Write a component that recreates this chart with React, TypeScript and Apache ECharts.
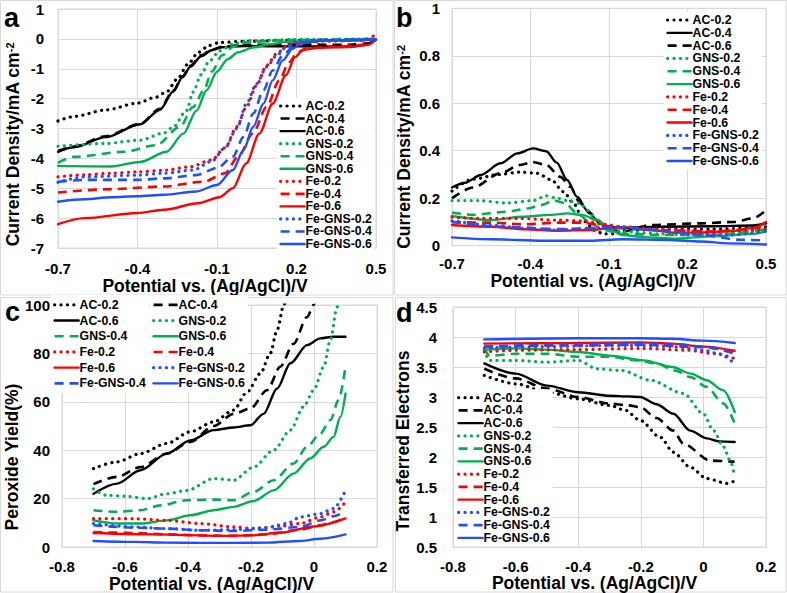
import { useEffect, useRef } from 'react';
import * as echarts from 'echarts';

const FONT = '"Liberation Sans", Arial, Helvetica, sans-serif';

// ---------- names, colours, line kinds ----------
const NAMES = ['AC-0.2', 'AC-0.4', 'AC-0.6', 'GNS-0.2', 'GNS-0.4', 'GNS-0.6', 'Fe-0.2', 'Fe-0.4', 'Fe-0.6', 'Fe-GNS-0.2', 'Fe-GNS-0.4', 'Fe-GNS-0.6'];
const COLORS = ['#000000', '#000000', '#000000', '#00b050', '#00b050', '#00b050', '#ff0000', '#ff0000', '#ff0000', '#1f4fff', '#1f4fff', '#1f4fff'];
const KINDS_DEFAULT = ['dot', 'dash', 'solid', 'dot', 'dash', 'solid', 'dot', 'dash', 'solid', 'dot', 'dash', 'solid'];
const KINDS_B = ['dot', 'solid', 'dash', 'dot', 'dash', 'solid', 'dot', 'dash', 'solid', 'dot', 'dash', 'solid'];

// ---------- panel a : current density (disk) ----------
const aAC02 = [[-0.7, -2.75], [-0.64, -2.6], [-0.52, -2.38], [-0.4, -2.15], [-0.33, -1.95], [-0.29, -1.77], [-0.25, -1.35], [-0.21, -0.85], [-0.17, -0.45], [-0.13, -0.22], [-0.09, -0.12], [0, -0.08], [0.2, -0.05], [0.4, -0.04], [0.5, -0.02]];
const aAC04 = [[-0.7, -3.75], [-0.64, -3.6], [-0.52, -3.26], [-0.39, -2.84], [-0.315, -2.34], [-0.265, -1.73], [-0.23, -1.25], [-0.2, -0.9], [-0.16, -0.55], [-0.12, -0.36], [-0.08, -0.26], [0, -0.2], [0.2, -0.19], [0.4, -0.2], [0.47, -0.15], [0.5, -0.03]];
const aAC06 = [[-0.7, -3.78], [-0.64, -3.63], [-0.52, -3.29], [-0.39, -2.86], [-0.315, -2.37], [-0.265, -1.76], [-0.23, -1.28], [-0.2, -0.93], [-0.16, -0.58], [-0.12, -0.38], [-0.08, -0.28], [0, -0.24], [0.2, -0.25], [0.4, -0.26], [0.46, -0.2], [0.5, -0.03]];
const aGNS02 = [[-0.7, -3.6], [-0.52, -3.5], [-0.39, -3.39], [-0.3, -3.15], [-0.265, -2.95], [-0.215, -2.4], [-0.19, -1.78], [-0.16, -1.2], [-0.13, -0.75], [-0.09, -0.4], [-0.04, -0.18], [0.02, -0.06], [0.2, -0.02], [0.5, 0]];
const aGNS04 = [[-0.7, -4.15], [-0.64, -3.95], [-0.45, -3.78], [-0.33, -3.56], [-0.24, -2.95], [-0.19, -2.28], [-0.15, -1.73], [-0.12, -1.1], [-0.08, -0.55], [-0.04, -0.27], [0.02, -0.1], [0.2, -0.03], [0.5, 0]];
const aGNS06 = [[-0.7, -4.25], [-0.5, -4.27], [-0.39, -4.12], [-0.29, -3.78], [-0.227, -3.17], [-0.177, -2.4], [-0.14, -1.73], [-0.1, -1.1], [-0.06, -0.68], [-0.02, -0.45], [0.04, -0.28], [0.1, -0.18], [0.16, -0.1], [0.3, -0.05], [0.5, -0.02]];
const aFe02 = [[-0.7, -4.62], [-0.6, -4.55], [-0.5, -4.5], [-0.4, -4.45], [-0.3, -4.4], [-0.2, -4.28], [-0.12, -4.05], [-0.07, -3.65], [-0.025, -2.94], [0.011, -2.28], [0.049, -1.56], [0.087, -0.89], [0.125, -0.5], [0.16, -0.26], [0.2, -0.14], [0.3, -0.08], [0.45, -0.05], [0.5, 0.15]];
const aFe04 = [[-0.7, -5.14], [-0.5, -5.03], [-0.3, -4.94], [-0.15, -4.78], [-0.07, -4.5], [-0.02, -3.94], [0.035, -3.17], [0.087, -2.28], [0.135, -1.39], [0.172, -0.78], [0.205, -0.44], [0.24, -0.31], [0.35, -0.26], [0.46, -0.2], [0.5, 0]];
const aFe06 = [[-0.7, -6.2], [-0.6, -6.0], [-0.4, -5.83], [-0.3, -5.72], [-0.17, -5.5], [-0.09, -5.3], [-0.04, -5.0], [0.01, -4.17], [0.06, -3.17], [0.11, -2.17], [0.16, -1.22], [0.195, -0.61], [0.225, -0.37], [0.28, -0.3], [0.4, -0.27], [0.47, -0.2], [0.5, -0.02]];
const aFeGNS02 = [[-0.7, -4.8], [-0.6, -4.62], [-0.4, -4.56], [-0.3, -4.5], [-0.19, -4.39], [-0.12, -4.1], [-0.07, -3.65], [-0.025, -3.0], [0.011, -2.17], [0.049, -1.5], [0.087, -0.94], [0.125, -0.56], [0.16, -0.28], [0.195, -0.11], [0.3, -0.04], [0.5, -0.02]];
const aFeGNS04 = [[-0.7, -4.78], [-0.6, -4.72], [-0.4, -4.72], [-0.3, -4.67], [-0.18, -4.56], [-0.1, -4.33], [-0.04, -3.94], [0.0, -3.28], [0.037, -2.5], [0.075, -1.72], [0.11, -1.06], [0.148, -0.56], [0.185, -0.28], [0.22, -0.14], [0.3, -0.05], [0.5, -0.02]];
const aFeGNS06 = [[-0.7, -5.45], [-0.6, -5.37], [-0.5, -5.3], [-0.4, -5.27], [-0.3, -5.22], [-0.18, -5.11], [-0.1, -4.89], [-0.04, -4.39], [0.0, -3.72], [0.037, -2.94], [0.075, -2.17], [0.11, -1.39], [0.148, -0.72], [0.185, -0.33], [0.22, -0.14], [0.3, -0.05], [0.5, -0.02]];

// ---------- panel b : current density (ring) ----------
const bAC02 = [[-0.7, 0.23], [-0.62, 0.28], [-0.52, 0.3], [-0.44, 0.31], [-0.375, 0.305], [-0.32, 0.277], [-0.274, 0.227], [-0.235, 0.179], [-0.21, 0.136], [-0.184, 0.094], [-0.16, 0.066], [-0.12, 0.05], [-0.083, 0.05], [-0.05, 0.065], [0.1, 0.07], [0.3, 0.07], [0.5, 0.08]];
const bAC04 = [[-0.7, 0.245], [-0.65, 0.265], [-0.59, 0.298], [-0.515, 0.347], [-0.45, 0.389], [-0.39, 0.41], [-0.34, 0.398], [-0.3, 0.35], [-0.26, 0.277], [-0.222, 0.206], [-0.184, 0.15], [-0.146, 0.108], [-0.108, 0.082], [-0.06, 0.075], [0.1, 0.08], [0.3, 0.082], [0.45, 0.085], [0.5, 0.094]];
const bAC06 = [[-0.7, 0.2], [-0.62, 0.245], [-0.515, 0.305], [-0.44, 0.34], [-0.39, 0.352], [-0.34, 0.34], [-0.286, 0.29], [-0.248, 0.248], [-0.21, 0.179], [-0.172, 0.136], [-0.133, 0.094], [-0.095, 0.066], [-0.05, 0.06], [0.06, 0.087], [0.25, 0.094], [0.375, 0.1], [0.45, 0.115], [0.5, 0.15]];
const bGNS02 = [[-0.7, 0.19], [-0.6, 0.19], [-0.49, 0.18], [-0.39, 0.19], [-0.34, 0.21], [-0.3, 0.2], [-0.26, 0.19], [-0.21, 0.179], [-0.184, 0.15], [-0.146, 0.108], [-0.1, 0.07], [-0.05, 0.06], [0.1, 0.05], [0.2, 0.045], [0.35, 0.05], [0.5, 0.07]];
const bGNS04 = [[-0.7, 0.14], [-0.62, 0.13], [-0.49, 0.143], [-0.41, 0.157], [-0.36, 0.171], [-0.31, 0.19], [-0.27, 0.18], [-0.22, 0.136], [-0.17, 0.094], [-0.12, 0.066], [-0.05, 0.05], [0.1, 0.045], [0.3, 0.045], [0.5, 0.07]];
const bGNS06 = [[-0.7, 0.125], [-0.55, 0.108], [-0.43, 0.122], [-0.32, 0.13], [-0.26, 0.136], [-0.2, 0.129], [-0.146, 0.108], [-0.1, 0.07], [-0.05, 0.045], [0.05, 0.035], [0.15, 0.03], [0.3, 0.04], [0.45, 0.05], [0.5, 0.06]];
const bFe02 = [[-0.7, 0.12], [-0.6, 0.115], [-0.45, 0.115], [-0.3, 0.108], [-0.2, 0.105], [-0.12, 0.09], [-0.05, 0.08], [0.1, 0.07], [0.3, 0.06], [0.5, 0.07]];
const bFe04 = [[-0.7, 0.1], [-0.55, 0.097], [-0.42, 0.09], [-0.3, 0.097], [-0.2, 0.097], [-0.15, 0.09], [-0.1, 0.08], [0.1, 0.065], [0.3, 0.06], [0.5, 0.08]];
const bFe06 = [[-0.7, 0.087], [-0.55, 0.08], [-0.42, 0.069], [-0.3, 0.063], [-0.17, 0.066], [-0.1, 0.073], [-0.04, 0.077], [0.06, 0.066], [0.15, 0.055], [0.25, 0.055], [0.375, 0.062], [0.45, 0.075], [0.5, 0.1]];
const bFeGNS02 = [[-0.7, 0.105], [-0.55, 0.087], [-0.42, 0.073], [-0.3, 0.066], [-0.17, 0.073], [-0.05, 0.08], [0.08, 0.066], [0.2, 0.05], [0.35, 0.045], [0.5, 0.06]];
const bFeGNS04 = [[-0.7, 0.1], [-0.5, 0.08], [-0.3, 0.07], [-0.1, 0.075], [0.1, 0.065], [0.25, 0.045], [0.4, 0.025], [0.5, 0.022]];
const bFeGNS06 = [[-0.7, 0.035], [-0.55, 0.027], [-0.35, 0.021], [-0.17, 0.021], [-0.05, 0.027], [0.13, 0.024], [0.25, 0.018], [0.36, 0.01], [0.5, 0.005]];

// ---------- panel c : peroxide yield ----------
const cAC02 = [[-0.7, 32.4], [-0.625, 35.2], [-0.551, 38.6], [-0.467, 42.8], [-0.393, 47.6], [-0.318, 51.7], [-0.255, 56.6], [-0.213, 64], [-0.17, 71.7], [-0.139, 80], [-0.117, 89.7], [-0.096, 100], [-0.08, 108]];
const cAC04 = [[-0.7, 26], [-0.625, 29], [-0.551, 33], [-0.467, 38.6], [-0.393, 43.4], [-0.318, 50], [-0.255, 55], [-0.202, 57.2], [-0.149, 64.8], [-0.107, 74.5], [-0.065, 84], [-0.022, 95], [-0.001, 100], [0.01, 104]];
const cAC06 = [[-0.7, 22], [-0.625, 26.2], [-0.551, 31.7], [-0.467, 38.6], [-0.393, 44], [-0.318, 48.3], [-0.255, 49.4], [-0.202, 50.3], [-0.16, 55], [-0.117, 65.5], [-0.075, 75.9], [-0.022, 83.4], [0.02, 86.2], [0.062, 86.9], [0.1, 86.9]];
const cGNS02 = [[-0.7, 24], [-0.66, 21.4], [-0.6, 21], [-0.53, 20], [-0.467, 22], [-0.403, 23.4], [-0.318, 28.3], [-0.255, 27.6], [-0.192, 33], [-0.128, 40], [-0.075, 48.3], [-0.033, 58], [-0.001, 64.8], [0.031, 74.5], [0.052, 85.5], [0.073, 99], [0.08, 104]];
const cGNS04 = [[-0.7, 15.2], [-0.625, 14.5], [-0.551, 15.2], [-0.488, 17.2], [-0.403, 19.3], [-0.318, 19.6], [-0.255, 19.3], [-0.192, 22.8], [-0.128, 27.6], [-0.065, 34.5], [-0.022, 41.4], [0.02, 46.9], [0.052, 52.4], [0.078, 60.7], [0.1, 74.5]];
const cGNS06 = [[-0.7, 11], [-0.625, 9.7], [-0.551, 9.7], [-0.467, 11], [-0.393, 13.1], [-0.318, 15.2], [-0.255, 16.6], [-0.192, 19], [-0.128, 23.4], [-0.065, 30.3], [-0.012, 36.6], [0.031, 41.4], [0.062, 45.5], [0.084, 53.8], [0.1, 63.4]];
const cFe02 = [[-0.7, 11.7], [-0.572, 11.7], [-0.467, 11], [-0.361, 9.7], [-0.255, 8.3], [-0.192, 7.6], [-0.107, 8.6], [-0.043, 9.7], [0.02, 12.4], [0.062, 14.5], [0.1, 18.6]];
const cFe04 = [[-0.7, 6.2], [-0.572, 5.8], [-0.467, 5.2], [-0.361, 4.8], [-0.255, 4.6], [-0.149, 5.2], [-0.043, 7.2], [0.02, 9], [0.062, 10.3], [0.1, 12.4]];
const cFe06 = [[-0.7, 5.8], [-0.5, 5.2], [-0.3, 4.6], [-0.2, 4.8], [-0.1, 6], [0, 8.5], [0.1, 11.8]];
const cFeGNS02 = [[-0.7, 9.7], [-0.572, 8.3], [-0.467, 7.6], [-0.361, 6.9], [-0.255, 7.2], [-0.149, 8], [-0.086, 9.7], [-0.043, 12.4], [0.02, 13.8], [0.062, 15.9], [0.1, 23.4]];
const cFeGNS04 = [[-0.7, 9], [-0.572, 8], [-0.467, 7.6], [-0.361, 6.9], [-0.255, 6.6], [-0.149, 7.2], [-0.043, 8.3], [0.02, 11], [0.062, 12.7], [0.1, 14.9]];
const cFeGNS06 = [[-0.7, 2.5], [-0.572, 2.1], [-0.467, 1.8], [-0.361, 1.7], [-0.255, 1.7], [-0.149, 1.8], [-0.043, 2.5], [0.02, 3.4], [0.1, 5.2]];

// ---------- panel d : transferred electrons ----------
const dAC02 = [[-0.7, 3.36], [-0.6, 3.22], [-0.5, 3.08], [-0.4, 2.97], [-0.3, 2.86], [-0.25, 2.78], [-0.202, 2.61], [-0.138, 2.33], [-0.096, 2.08], [-0.042, 1.83], [0.011, 1.64], [0.075, 1.56], [0.1, 1.6]];
const dAC04 = [[-0.7, 3.47], [-0.6, 3.31], [-0.5, 3.14], [-0.4, 3.0], [-0.3, 2.89], [-0.24, 2.86], [-0.202, 2.83], [-0.15, 2.65], [-0.096, 2.44], [-0.064, 2.22], [0.022, 1.94], [0.1, 1.92]];
const dAC06 = [[-0.7, 3.56], [-0.6, 3.39], [-0.5, 3.19], [-0.4, 3.08], [-0.3, 3.02], [-0.24, 3.01], [-0.202, 3.0], [-0.15, 2.88], [-0.096, 2.72], [-0.042, 2.44], [0.011, 2.31], [0.05, 2.26], [0.1, 2.25]];
const dGNS02 = [[-0.7, 3.78], [-0.683, 3.61], [-0.6, 3.61], [-0.5, 3.58], [-0.4, 3.61], [-0.34, 3.47], [-0.26, 3.44], [-0.17, 3.28], [-0.064, 3.06], [0.0, 2.72], [0.032, 2.44], [0.064, 2.17], [0.086, 1.94], [0.1, 1.67]];
const dGNS04 = [[-0.7, 3.81], [-0.683, 3.69], [-0.6, 3.72], [-0.5, 3.72], [-0.4, 3.67], [-0.3, 3.67], [-0.21, 3.61], [-0.15, 3.56], [-0.09, 3.44], [-0.04, 3.33], [0.01, 3.17], [0.064, 2.89], [0.1, 2.56]];
const dGNS06 = [[-0.7, 3.79], [-0.6, 3.81], [-0.5, 3.79], [-0.4, 3.75], [-0.3, 3.69], [-0.19, 3.61], [-0.1, 3.5], [-0.04, 3.39], [0.01, 3.28], [0.064, 3.11], [0.1, 2.75]];
const dFe02 = [[-0.7, 3.75], [-0.6, 3.78], [-0.4, 3.79], [-0.2, 3.81], [-0.05, 3.78], [0.04, 3.72], [0.1, 3.64]];
const dFe04 = [[-0.7, 3.84], [-0.4, 3.86], [-0.2, 3.87], [0, 3.83], [0.1, 3.74]];
const dFe06 = [[-0.7, 3.89], [-0.4, 3.9], [-0.2, 3.91], [-0.1, 3.89], [0, 3.84], [0.1, 3.77]];
const dFeGNS02 = [[-0.7, 3.82], [-0.5, 3.84], [-0.3, 3.86], [-0.2, 3.86], [-0.1, 3.84], [0, 3.78], [0.05, 3.72], [0.1, 3.55]];
const dFeGNS04 = [[-0.7, 3.84], [-0.4, 3.88], [-0.2, 3.89], [-0.1, 3.88], [0, 3.84], [0.1, 3.72]];
const dFeGNS06 = [[-0.7, 3.96], [-0.4, 3.98], [-0.2, 3.98], [-0.1, 3.97], [0, 3.94], [0.1, 3.9]];

const A_SERIES = [aAC02, aAC04, aAC06, aGNS02, aGNS04, aGNS06, aFe02, aFe04, aFe06, aFeGNS02, aFeGNS04, aFeGNS06];
const B_SERIES = [bAC02, bAC04, bAC06, bGNS02, bGNS04, bGNS06, bFe02, bFe04, bFe06, bFeGNS02, bFeGNS04, bFeGNS06];
const C_SERIES = [cAC02, cAC04, cAC06, cGNS02, cGNS04, cGNS06, cFe02, cFe04, cFe06, cFeGNS02, cFeGNS04, cFeGNS06];
const D_SERIES = [dAC02, dAC04, dAC06, dGNS02, dGNS04, dGNS06, dFe02, dFe04, dFe06, dFeGNS02, dFeGNS04, dFeGNS06];

// axis titles
const X_TITLE = 'Potential vs. (Ag/AgCl)/V';
const Y_TITLE_AB = 'Current Density/mA cm{sup|-2}';
const Y_TITLE_C = 'Peroxide Yield(%)';
const Y_TITLE_D = 'Transferred Electrons';

function lineStyleFor(kind: string, color: string) {
  if (kind === 'dot') return { color, width: 3.2, type: [0.1, 6.3], cap: 'round' };
  if (kind === 'dash') return { color, width: 2.6, type: [9, 6], cap: 'butt' };
  return { color, width: 2.4, type: 'solid', cap: 'round' };
}

function buildSeries(prefix: string, sets: number[][][], kinds: string[], idx: number) {
  return sets.map((data, i) => ({
    type: 'line',
    name: prefix + NAMES[i],
    xAxisIndex: idx,
    yAxisIndex: idx,
    data,
    symbol: 'none',
    smooth: 0.3,
    smoothMonotone: 'x',
    silent: true,
    clip: true,
    lineStyle: lineStyleFor(kinds[i], COLORS[i]),
    itemStyle: { color: COLORS[i] },
    emphasis: { disabled: true },
  }));
}

const tickLabel = (margin: number) => ({ color: '#000', fontSize: 15, fontWeight: 'bold', fontFamily: FONT, margin });
const gridLine = { show: true, lineStyle: { color: '#d9d9d9', width: 1 } };
const axisLn = { show: true, onZero: false, lineStyle: { color: '#d9d9d9', width: 1 } };

function xAxisFor(idx: number, min: number, max: number, interval: number, margin: number, gap: number, shift: number) {
  return {
    type: 'value', gridIndex: idx, min, max, interval,
    axisLine: axisLn, axisTick: { show: false }, splitLine: gridLine,
    axisLabel: tickLabel(margin),
    name: X_TITLE, nameLocation: 'middle', nameGap: gap,
    nameTextStyle: { color: '#000', fontSize: 17.5, fontWeight: 'bold', fontFamily: FONT, padding: [0, shift * 2, 0, 0] },
  };
}

function yAxisFor(idx: number, min: number, max: number, interval: number, margin: number, name: string, gap: number, shift: number) {
  return {
    type: 'value', gridIndex: idx, min, max, interval,
    axisLine: axisLn, axisTick: { show: false }, splitLine: gridLine,
    axisLabel: tickLabel(margin),
    name, nameLocation: 'middle', nameGap: gap, nameRotate: 90,
    nameTextStyle: {
      color: '#000', fontSize: 17.5, fontWeight: 'bold', fontFamily: FONT, padding: [0, shift * 2, 0, 0],
      rich: { sup: { fontSize: 11, fontWeight: 'bold', fontFamily: FONT, color: '#000', verticalAlign: 'top', padding: [0, 0, 6, 0] } },
    },
  };
}

function legendFor(prefix: string, idxs: number[], kinds: string[], left: number, top: number, rowH: number) {
  return {
    orient: 'vertical', left, top, itemWidth: 24, itemHeight: 3, itemGap: 0,
    padding: [2, 3, 2, 2], backgroundColor: '#ffffff', selectedMode: false,
    itemStyle: { opacity: 0 },
    lineStyle: { width: 2.6 },
    textStyle: { color: '#000', fontSize: 12.3, fontWeight: 'bold', fontFamily: FONT, lineHeight: rowH, padding: [0, 0, 0, -4] },
    formatter: (n: string) => n.slice(prefix.length),
    data: idxs.map((i) => ({
      name: prefix + NAMES[i],
      lineStyle: { width: kinds[i] === 'dot' ? 3.2 : kinds[i] === 'dash' ? 2.6 : 2.4 },
    })),
  };
}

function panelBox(x: number, y: number, w: number, h: number) {
  return { type: 'rect', shape: { x, y, width: w, height: h }, style: { fill: 'none', stroke: '#d9d9d9', lineWidth: 1 }, silent: true, z: -10 };
}

function letter(t: string, x: number, y: number) {
  return { type: 'text', x, y, style: { text: t, fontSize: 27, fontWeight: 'bold', fontFamily: FONT, fill: '#000', verticalAlign: 'middle' }, silent: true };
}

export default function App() {
  const ref = useRef<HTMLDivElement>(null);
  useEffect(() => {
    if (!ref.current) return;
    const chart = echarts.init(ref.current, null, { renderer: 'svg' });
    const ALL = NAMES.map((_, i) => i);
    const cLeftCol = [0, 2, 4, 6, 8, 10];
    const cRightCol = [1, 3, 5, 7, 9, 11];
    const option = {
      animation: false,
      backgroundColor: '#ffffff',
      textStyle: { fontFamily: FONT },
      grid: [
        { left: 58, top: 9, width: 318, height: 239, show: true, borderColor: '#d9d9d9', borderWidth: 1, outerBoundsMode: 'none', containLabel: false },
        { left: 452, top: 8.3, width: 314, height: 237.4, show: true, borderColor: '#d9d9d9', borderWidth: 1, outerBoundsMode: 'none', containLabel: false },
        { left: 62, top: 305, width: 315, height: 242, show: true, borderColor: '#d9d9d9', borderWidth: 1, outerBoundsMode: 'none', containLabel: false },
        { left: 453, top: 307, width: 313, height: 240, show: true, borderColor: '#d9d9d9', borderWidth: 1, outerBoundsMode: 'none', containLabel: false },
      ],
      xAxis: [
        xAxisFor(0, -0.7, 0.5, 0.3, 13, 28, 12),
        xAxisFor(1, -0.7, 0.5, 0.3, 10, 22.5, 16),
        xAxisFor(2, -0.8, 0.2, 0.2, 12, 26.5, 8),
        xAxisFor(3, -0.8, 0.2, 0.2, 11.5, 25.5, 15),
      ],
      yAxis: [
        yAxisFor(0, -7, 1, 1, 14, Y_TITLE_AB, 36, 16),
        yAxisFor(1, 0, 1, 0.2, 12, Y_TITLE_AB, 39, 20),
        yAxisFor(2, 0, 100, 20, 12, Y_TITLE_C, 37, 31),
        yAxisFor(3, 0.5, 4.5, 0.5, 16, Y_TITLE_D, 38, 14),
      ],
      legend: [
        legendFor('a:', ALL, KINDS_DEFAULT, 277, 97.7, 12.55),
        legendFor('b:', ALL, KINDS_B, 664, 11.6, 12.82),
        legendFor('c:', cLeftCol, KINDS_DEFAULT, 51, 295, 15.7),
        legendFor('c:', cRightCol, KINDS_DEFAULT, 150, 295, 15.7),
        legendFor('d:', ALL, KINDS_DEFAULT, 455, 389.3, 12.75),
      ],
      series: [
        ...buildSeries('a:', A_SERIES, KINDS_DEFAULT, 0),
        ...buildSeries('b:', B_SERIES, KINDS_B, 1),
        ...buildSeries('c:', C_SERIES, KINDS_DEFAULT, 2),
        ...buildSeries('d:', D_SERIES, KINDS_DEFAULT, 3),
      ],
      graphic: [
        panelBox(0.5, 0.5, 392.5, 294.5),
        panelBox(394.5, 0.5, 391.5, 294.5),
        panelBox(0.5, 297.5, 392.5, 294.5),
        panelBox(395.5, 297.5, 390.5, 294.5),
        letter('a', 4, 17.5),
        letter('b', 396, 17.5),
        letter('c', 5, 311.5),
        letter('d', 396, 312.5),
      ],
    };
    chart.setOption(option as any);
    return () => chart.dispose();
  }, []);
  return <div ref={ref} style={{ position: 'absolute', left: 0, top: 0, width: 787, height: 593 }} />;
}
